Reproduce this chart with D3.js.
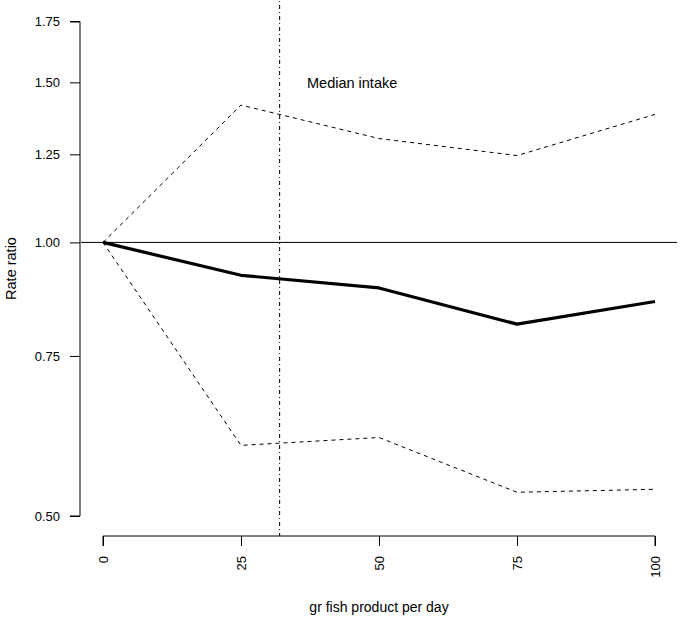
<!DOCTYPE html>
<html><head><meta charset="utf-8">
<script src="https://cdn.jsdelivr.net/npm/d3@7"></script>
<style>body{margin:0;background:#fff}svg{display:block}text{font-family:"Liberation Sans",Arial,Helvetica,sans-serif;fill:#000}</style>
</head><body>
<script>
const xValues = [0, 25, 50, 75, 100];
const estimate = [1.00, 0.920, 0.891, 0.813, 0.861];
const upper = [1.00, 1.416, 1.301, 1.246, 1.383];
const lower = [1.00, 0.598, 0.610, 0.531, 0.535];
const yTicks = [0.50, 0.75, 1.00, 1.25, 1.50, 1.75];
const xTicks = [0, 25, 50, 75, 100];
const medianIntake = 32;
const refLine = 1.0;

const W = 682, H = 623;
const svg = d3.select("body").append("svg").attr("width", W).attr("height", H);

const x = d3.scaleLinear().domain([0, 100]).range([103, 655]);
const y = d3.scaleLog().domain([0.5, 1.75]).range([516, 21.5]);

const regL = 81, regR = 677, regT = 1, regB = 536;

// y axis
const yAxis = d3.axisLeft(y).tickValues(yTicks).tickFormat(d3.format(".2f")).tickSize(10).tickPadding(10);
const gy = svg.append("g").attr("transform", `translate(80,0)`).call(yAxis);
gy.select(".domain").attr("d", `M-10,${y(0.5)}H0V${y(1.75)}H-10`).attr("stroke", "#000");
gy.selectAll(".tick line").attr("stroke", "#000");
gy.selectAll(".tick text").style("font-size", "13px").attr("fill", "#000").style("font-family", "'Liberation Sans',Arial,sans-serif");

// x axis
const xAxis = d3.axisBottom(x).tickValues(xTicks).tickFormat(d3.format("d")).tickSize(10).tickPadding(0);
const gx = svg.append("g").attr("transform", `translate(0,536)`).call(xAxis);
gx.select(".domain").attr("d", `M${x(0)},10V0H${x(100)}V10`).attr("stroke", "#000");
gx.selectAll(".tick line").attr("stroke", "#000");
gx.selectAll(".tick text")
  .style("font-size", "13px").attr("fill", "#000").style("font-family", "'Liberation Sans',Arial,sans-serif")
  .attr("transform", "rotate(-90)").attr("text-anchor", "end").attr("x", -20).attr("y", 0).attr("dy", "0.35em");

// reference line
svg.append("line").attr("x1", regL).attr("x2", regR).attr("y1", y(refLine)).attr("y2", y(refLine))
  .attr("stroke", "#000").attr("stroke-width", 1);

// median intake line
svg.append("line").attr("x1", x(medianIntake)).attr("x2", x(medianIntake)).attr("y1", regT).attr("y2", regB)
  .attr("stroke", "#000").attr("stroke-width", 1).attr("stroke-dasharray", "1,3,4,3");

svg.append("text").attr("x", 307).attr("y", 88).style("font-size", "14.5px").text("Median intake");

const line = d3.line().x((d, i) => x(xValues[i])).y(d => y(d));

svg.append("path").attr("d", line(upper)).attr("fill", "none").attr("stroke", "#000").attr("stroke-width", 1).attr("stroke-dasharray", "4,4");
svg.append("path").attr("d", line(lower)).attr("fill", "none").attr("stroke", "#000").attr("stroke-width", 1).attr("stroke-dasharray", "4,4");
svg.append("path").attr("d", line(estimate)).attr("fill", "none").attr("stroke", "#000").attr("stroke-width", 3.2).attr("stroke-linejoin", "round");

// axis titles
svg.append("text").attr("x", (regL + regR) / 2).attr("y", 612).attr("text-anchor", "middle").style("font-size", "14px").text("gr fish product per day");
svg.append("text").attr("transform", `translate(16,${(regT + regB) / 2}) rotate(-90)`).attr("text-anchor", "middle").style("font-size", "14.5px").text("Rate ratio");
</script>
</body></html>
